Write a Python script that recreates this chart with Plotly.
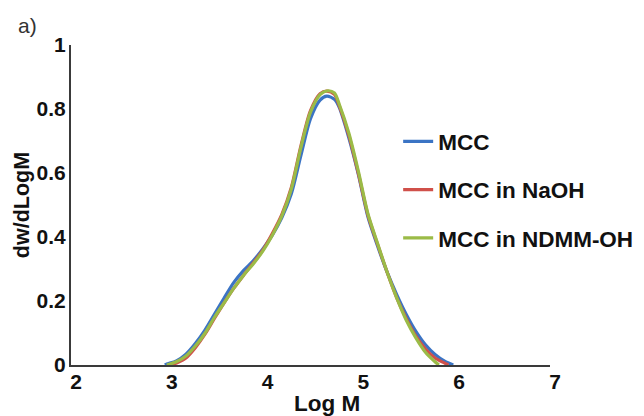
import plotly.graph_objects as go

# ---- data ----
x_mcc = [2.98, 3.0, 3.1, 3.2, 3.3, 3.4, 3.5, 3.6, 3.7, 3.8, 3.9, 4.0, 4.1, 4.2, 4.3, 4.4,
         4.5, 4.6, 4.67, 4.75, 4.8, 4.9, 5.0, 5.1, 5.2, 5.3, 5.4, 5.5, 5.6, 5.7, 5.8, 5.9, 5.99]
y_mcc = [0.0, 0.003, 0.013, 0.034, 0.068, 0.11, 0.16, 0.21, 0.258, 0.295, 0.325, 0.362,
         0.405, 0.46, 0.535, 0.655, 0.77, 0.828, 0.84, 0.83, 0.805, 0.71, 0.595, 0.462,
         0.372, 0.29, 0.22, 0.158, 0.105, 0.063, 0.033, 0.012, 0.0]

x_naoh = [3.05, 3.1, 3.2, 3.3, 3.4, 3.5, 3.6, 3.7, 3.8, 3.9, 4.0, 4.1, 4.2, 4.3, 4.4, 4.5,
          4.6, 4.67, 4.75, 4.8, 4.9, 5.0, 5.1, 5.2, 5.3, 5.4, 5.5, 5.6, 5.7, 5.8, 5.9, 5.94]
y_naoh = [0.0, 0.006, 0.022, 0.055, 0.097, 0.147, 0.195, 0.24, 0.28, 0.318, 0.358, 0.41,
          0.47, 0.555, 0.685, 0.795, 0.848, 0.856, 0.846, 0.81, 0.718, 0.598, 0.468,
          0.377, 0.29, 0.21, 0.145, 0.09, 0.05, 0.022, 0.006, 0.0]

x_ndmm = [3.0, 3.1, 3.2, 3.3, 3.4, 3.5, 3.6, 3.7, 3.8, 3.9, 4.0, 4.1, 4.2, 4.3, 4.4, 4.5,
          4.6, 4.68, 4.75, 4.8, 4.9, 5.0, 5.1, 5.2, 5.3, 5.4, 5.5, 5.6, 5.7, 5.8, 5.84]
y_ndmm = [0.0, 0.01, 0.028, 0.06, 0.1, 0.15, 0.195, 0.24, 0.28, 0.315, 0.355, 0.405,
          0.465, 0.55, 0.68, 0.79, 0.845, 0.857, 0.85, 0.815, 0.725, 0.605, 0.472,
          0.38, 0.29, 0.21, 0.14, 0.085, 0.04, 0.01, 0.0]

series_names = ["MCC", "MCC in NaOH", "MCC in NDMM-OH"]
series_colors = ["#3B74C4", "#D0504A", "#9BBB47"]

x_ticks = [2, 3, 4, 5, 6, 7]
x_ticklabels = ["2", "3", "4", "5", "6", "7"]
y_ticks = [0, 0.2, 0.4, 0.6, 0.8, 1.0]
y_ticklabels = ["0", "0.2", "0.4", "0.6", "0.8", "1"]

FONT = "Liberation Sans, Arial, sans-serif"
TXT = "#111111"

fig = go.Figure()
for xs, ys, name, col in zip([x_mcc, x_naoh, x_ndmm], [y_mcc, y_naoh, y_ndmm],
                             series_names, series_colors):
    fig.add_trace(go.Scatter(
        x=xs, y=ys, name=name, mode="lines", legendgroup=name,
        line=dict(color=col, width=3.2, shape="spline", smoothing=0.8),
    ))

fig.update_layout(
    width=644, height=416,
    margin=dict(l=63, r=102, t=37, b=59, autoexpand=False),
    paper_bgcolor="white", plot_bgcolor="white",
    font=dict(family=FONT, color=TXT),
    showlegend=True,
    legend=dict(
        x=0.683, y=0.765, xanchor="left", yanchor="top",
        font=dict(family=FONT, size=22.5, color=TXT, weight="bold"),
        tracegroupgap=16, bgcolor="rgba(0,0,0,0)",
        itemwidth=30,
    ),
    xaxis=dict(
        range=[2, 7], tickvals=x_ticks, ticktext=x_ticklabels,
        showgrid=False, zeroline=False, showline=True, linecolor="#3a3a3a", linewidth=2,
        ticks="", tickfont=dict(family=FONT, size=21, color=TXT, weight="bold"),
        ticklabelshift=5, ticklabelstandoff=-3, automargin=False,
        fixedrange=True,
    ),
    yaxis=dict(
        range=[0, 1], tickvals=y_ticks, ticktext=y_ticklabels,
        showgrid=False, zeroline=False, showline=True, linecolor="#3a3a3a", linewidth=2,
        ticks="", tickfont=dict(family=FONT, size=21, color=TXT, weight="bold"),
        ticklabelstandoff=-1, automargin=False,
        title=dict(text="dw/dLogM", font=dict(family=FONT, size=21.5, color=TXT, weight="bold"),
                   standoff=1),
        fixedrange=True,
    ),
    annotations=[
        dict(text="a)", xref="paper", yref="paper", x=-0.09, y=1.0625,
             xanchor="center", yanchor="middle", showarrow=False,
             font=dict(family=FONT, size=21, color="#333333")),
        dict(text="Log M", xref="paper", yref="paper", x=0.534, y=-0.119,
             xanchor="center", yanchor="middle", showarrow=False,
             font=dict(family=FONT, size=22.5, color=TXT, weight="bold")),
    ],
)

fig.write_html("out.html")
